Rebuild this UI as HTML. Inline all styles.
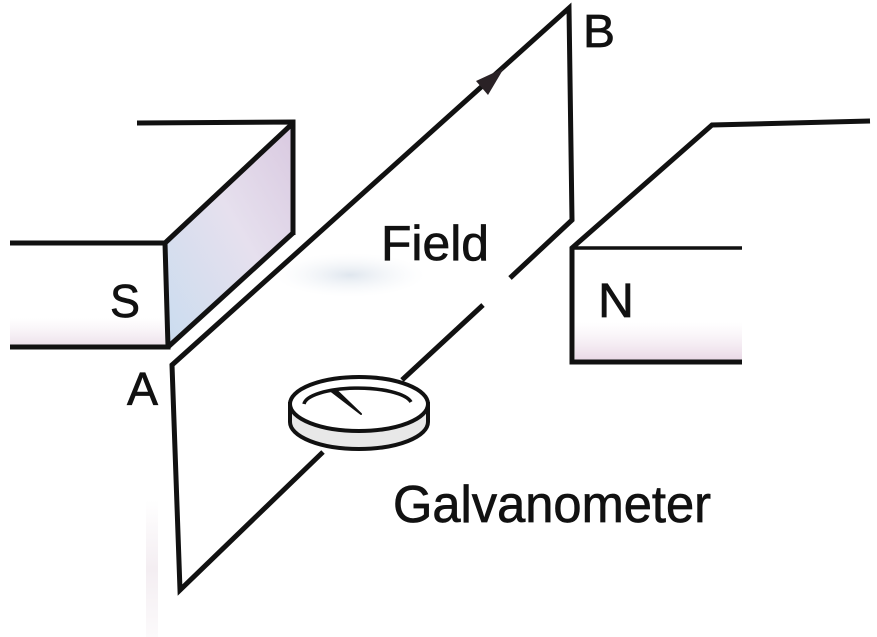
<!DOCTYPE html>
<html>
<head>
<meta charset="utf-8">
<style>
html,body{margin:0;padding:0;background:#fff;}
svg{display:block;}
text{font-family:"Liberation Sans",Arial,sans-serif;fill:#111;stroke:#111;stroke-width:0.7;}
</style>
</head>
<body>
<svg width="877" height="637" viewBox="0 0 877 637" xmlns="http://www.w3.org/2000/svg">
  <defs>
    <linearGradient id="sface" x1="1" y1="0" x2="0" y2="1">
      <stop offset="0" stop-color="#d9c9e0"/>
      <stop offset="0.45" stop-color="#e6e0ee"/>
      <stop offset="1" stop-color="#c9dcef"/>
    </linearGradient>
    <linearGradient id="npink" x1="0" y1="0" x2="0" y2="1">
      <stop offset="0" stop-color="#f3e9f1" stop-opacity="0"/>
      <stop offset="1" stop-color="#e9d8e6"/>
    </linearGradient>
    <linearGradient id="spink" x1="0" y1="0" x2="0" y2="1">
      <stop offset="0" stop-color="#f3eaf2" stop-opacity="0"/>
      <stop offset="1" stop-color="#ece0ea"/>
    </linearGradient>
    <radialGradient id="blob" cx="0.5" cy="0.5" r="0.5">
      <stop offset="0" stop-color="#dfe6ee"/>
      <stop offset="1" stop-color="#f4f6f9" stop-opacity="0"/>
    </radialGradient>
    <linearGradient id="lpink" x1="0" y1="0" x2="0" y2="1">
      <stop offset="0" stop-color="#f4eef2" stop-opacity="0"/>
      <stop offset="0.5" stop-color="#f4eef2"/>
      <stop offset="1" stop-color="#f4eef2" stop-opacity="0.3"/>
    </linearGradient>
  </defs>

  <!-- faint smudges -->
  <ellipse cx="350" cy="275" rx="75" ry="22" fill="url(#blob)"/>
  <rect x="146" y="500" width="12" height="137" fill="url(#lpink)"/>

  <!-- S magnet -->
  <polygon points="165,243 291,124 293,233 168,347" fill="url(#sface)"/>
  <rect x="10" y="318" width="155" height="28" fill="url(#spink)"/>
  <g stroke="#111" stroke-width="5" fill="none" stroke-linejoin="miter" stroke-linecap="butt">
    <polyline points="137,123 293,122 293,235"/>
    <polyline points="10,243 165,243 168,347 10,347"/>
    <line x1="165" y1="243" x2="292" y2="124"/>
    <line x1="168" y1="347" x2="293" y2="233"/>
  </g>

  <!-- N magnet -->
  <rect x="575" y="322" width="167" height="38" fill="url(#npink)"/>
  <g stroke="#111" stroke-width="5" fill="none" stroke-linejoin="miter">
    <polyline points="870,121 712,125 572,248 572,362 742,362"/>
    <line x1="572" y1="248" x2="742" y2="248" stroke-width="3.5"/>
  </g>

  <!-- Coil loop -->
  <g stroke="#111" stroke-width="5" fill="none" stroke-linejoin="miter">
    <polyline points="323,452 180,590 172,365 569,8 572,220 510,278"/>
    <line x1="483" y1="305" x2="402" y2="380"/>
  </g>
  <!-- arrowhead -->
  <polygon points="504,68 476,81 488,95" fill="#2a2226"/>

  <!-- Galvanometer -->
  <path d="M290,404 L290,422 A69,27 0 0 0 428,422 L428,404 Z" fill="#e8e8e8" stroke="#111" stroke-width="4"/>
  <ellipse cx="359" cy="404" rx="69" ry="27" fill="#fff" stroke="#111" stroke-width="4"/>
  <path d="M304,404 A54,17 0 0 1 411,402" fill="none" stroke="#111" stroke-width="3.5"/>
  <polygon points="331,391 335,389 361,414" fill="#111" stroke="#111" stroke-width="2" stroke-linejoin="round"/>

  <!-- Labels -->
  <text x="583" y="47" font-size="46" textLength="32" lengthAdjust="spacingAndGlyphs">B</text>
  <text x="381" y="260" font-size="49" textLength="108" lengthAdjust="spacingAndGlyphs">Field</text>
  <text x="110" y="317" font-size="46" textLength="30" lengthAdjust="spacingAndGlyphs">S</text>
  <text x="598" y="317" font-size="48" textLength="36" lengthAdjust="spacingAndGlyphs">N</text>
  <text x="127" y="405" font-size="46" textLength="31" lengthAdjust="spacingAndGlyphs">A</text>
  <text x="393" y="522" font-size="52" textLength="318" lengthAdjust="spacingAndGlyphs">Galvanometer</text>
</svg>
</body>
</html>
